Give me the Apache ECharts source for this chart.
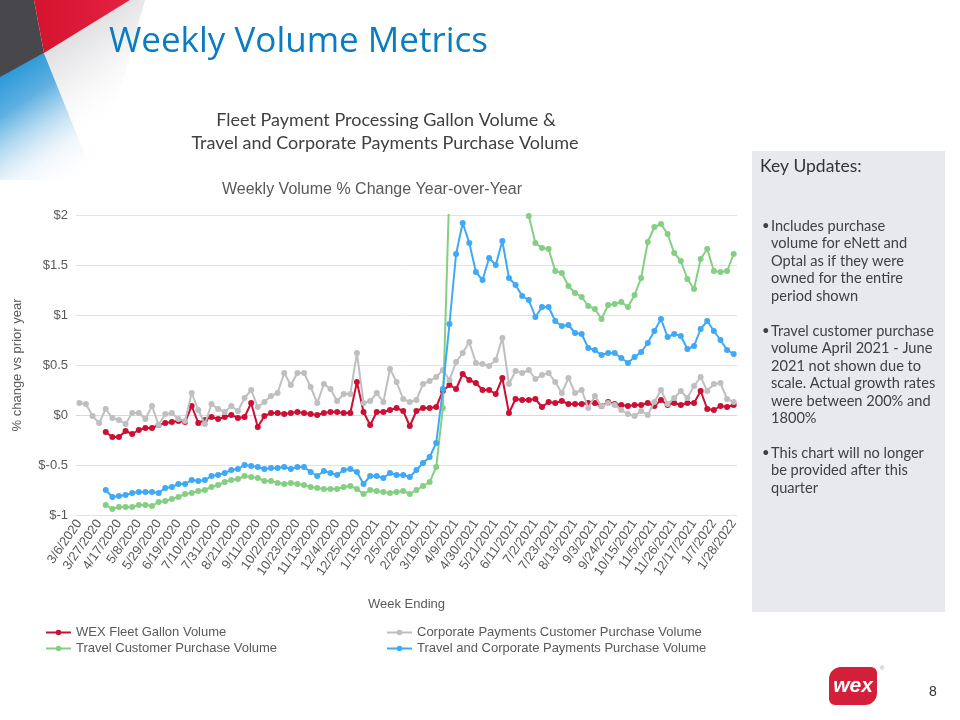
<!DOCTYPE html>
<html>
<head>
<meta charset="utf-8">
<script src="https://cdn.jsdelivr.net/npm/echarts@6/dist/echarts.min.js"></script>
<style>
html,body{margin:0;padding:0;background:#fff;}
#chart{width:960px;height:720px;}
</style>
</head>
<body>
<div id="chart"></div>
<script>
const weeks = ['3/6/2020','3/13/2020','3/20/2020','3/27/2020','4/3/2020','4/10/2020','4/17/2020','4/24/2020','5/1/2020','5/8/2020','5/15/2020','5/22/2020','5/29/2020','6/5/2020','6/12/2020','6/19/2020','6/26/2020','7/3/2020','7/10/2020','7/17/2020','7/24/2020','7/31/2020','8/7/2020','8/14/2020','8/21/2020','8/28/2020','9/4/2020','9/11/2020','9/18/2020','9/25/2020','10/2/2020','10/9/2020','10/16/2020','10/23/2020','10/30/2020','11/6/2020','11/13/2020','11/20/2020','11/27/2020','12/4/2020','12/11/2020','12/18/2020','12/25/2020','1/1/2021','1/8/2021','1/15/2021','1/22/2021','1/29/2021','2/5/2021','2/12/2021','2/19/2021','2/26/2021','3/5/2021','3/12/2021','3/19/2021','3/26/2021','4/2/2021','4/9/2021','4/16/2021','4/23/2021','4/30/2021','5/7/2021','5/14/2021','5/21/2021','5/28/2021','6/4/2021','6/11/2021','6/18/2021','6/25/2021','7/2/2021','7/9/2021','7/16/2021','7/23/2021','7/30/2021','8/6/2021','8/13/2021','8/20/2021','8/27/2021','9/3/2021','9/10/2021','9/17/2021','9/24/2021','10/1/2021','10/8/2021','10/15/2021','10/22/2021','10/29/2021','11/5/2021','11/12/2021','11/19/2021','11/26/2021','12/3/2021','12/10/2021','12/17/2021','12/24/2021','12/31/2021','1/7/2022','1/14/2022','1/21/2022','1/28/2022'];

const wexFleetGallon = [null,null,null,null,-0.17,-0.22,-0.22,-0.16,-0.19,-0.15,
 -0.13,-0.13,-0.10,-0.08,-0.07,-0.06,-0.07,0.09,-0.08,-0.05,
 -0.02,-0.04,-0.02,0.00,-0.03,-0.02,0.12,-0.12,-0.01,0.02,
 0.02,0.01,0.02,0.03,0.02,0.01,0.00,0.02,0.03,0.03,
 0.02,0.02,0.33,0.03,-0.10,0.03,0.03,0.05,0.07,0.04,
 -0.11,0.04,0.07,0.07,0.08,0.24,0.30,0.26,0.41,0.35,
 0.32,0.25,0.25,0.21,0.37,0.02,0.16,0.15,0.15,0.16,
 0.08,0.13,0.12,0.14,0.11,0.11,0.11,0.12,0.12,0.09,
 0.13,0.11,0.10,0.09,0.10,0.10,0.12,0.09,0.15,0.10,
 0.12,0.10,0.12,0.12,0.24,0.06,0.05,0.09,0.08,0.10];

const corporatePayments = [0.12,0.11,-0.01,-0.08,0.06,-0.03,-0.05,-0.09,0.02,0.02,
 -0.04,0.09,-0.10,0.01,0.02,-0.04,-0.06,0.22,0.05,-0.09,
 0.11,0.06,0.03,0.09,0.04,0.17,0.25,0.08,0.13,0.19,
 0.22,0.42,0.30,0.42,0.42,0.28,0.12,0.31,0.26,0.14,
 0.21,0.21,0.62,0.12,0.14,0.22,0.13,0.46,0.33,0.16,
 0.13,0.15,0.31,0.34,0.38,0.45,0.35,0.53,0.62,0.73,
 0.52,0.51,0.49,0.55,0.77,0.31,0.44,0.42,0.45,0.36,
 0.40,0.42,0.33,0.22,0.37,0.22,0.25,0.07,0.19,0.09,
 0.12,0.10,0.05,0.01,-0.01,0.04,0.00,0.13,0.25,0.11,
 0.17,0.24,0.17,0.29,0.38,0.24,0.31,0.32,0.16,0.13];

const travelCustomer = [null,null,null,null,-0.90,-0.94,-0.92,-0.92,-0.92,-0.90,
 -0.90,-0.91,-0.87,-0.86,-0.84,-0.82,-0.79,-0.78,-0.76,-0.75,
 -0.72,-0.70,-0.67,-0.65,-0.64,-0.61,-0.62,-0.63,-0.66,-0.66,
 -0.68,-0.69,-0.68,-0.69,-0.70,-0.72,-0.73,-0.74,-0.74,-0.74,
 -0.72,-0.71,-0.74,-0.79,-0.75,-0.76,-0.77,-0.78,-0.77,-0.76,
 -0.79,-0.75,-0.71,-0.67,-0.52,0.07,2.3,null,null,null,
 null,null,null,null,null,null,null,null,1.99,1.72,
 1.67,1.66,1.44,1.42,1.29,1.22,1.18,1.09,1.06,0.96,
 1.10,1.11,1.13,1.08,1.20,1.37,1.73,1.88,1.91,1.81,
 1.62,1.54,1.36,1.26,1.56,1.66,1.44,1.43,1.44,1.61];

const travelAndCorporate = [null,null,null,null,-0.75,-0.82,-0.81,-0.80,-0.78,-0.77,
 -0.77,-0.77,-0.78,-0.73,-0.72,-0.69,-0.69,-0.65,-0.66,-0.65,
 -0.61,-0.60,-0.58,-0.55,-0.54,-0.50,-0.51,-0.52,-0.54,-0.53,
 -0.53,-0.52,-0.54,-0.52,-0.52,-0.57,-0.61,-0.56,-0.58,-0.60,
 -0.55,-0.54,-0.57,-0.69,-0.61,-0.61,-0.63,-0.58,-0.60,-0.60,
 -0.62,-0.55,-0.48,-0.42,-0.28,0.26,0.91,1.61,1.92,1.72,
 1.43,1.35,1.57,1.50,1.74,1.37,1.30,1.19,1.15,0.98,
 1.08,1.08,0.94,0.89,0.90,0.82,0.81,0.67,0.65,0.60,
 0.62,0.62,0.57,0.52,0.58,0.63,0.72,0.84,0.96,0.78,
 0.81,0.79,0.66,0.69,0.86,0.94,0.84,0.75,0.65,0.61];

const seriesNames = ['WEX Fleet Gallon Volume','Corporate Payments Customer Purchase Volume','Travel Customer Purchase Volume','Travel and Corporate Payments Purchase Volume'];
const seriesColors = ['#cc0f35','#bfbfbf','#85cf85','#3fa9f5'];
const seriesData = [wexFleetGallon, corporatePayments, travelCustomer, travelAndCorporate];

const keyUpdates = [
  ['Includes purchase','volume for eNett and','Optal as if they were','owned for the entire','period shown'],
  ['Travel customer purchase','volume April 2021 - June','2021 not shown due to','scale. Actual growth rates','were between 200% and','1800%'],
  ['This chart will no longer','be provided after this','quarter']
];

const chart = echarts.init(document.getElementById('chart'), null, {renderer:'canvas'});
const LG = echarts.graphic.LinearGradient;

const graphics = [
  // decorative corner
  {type:'polygon', shape:{points:[[0,76],[44,53],[95,180],[0,180]]}, style:{fill:new LG(0,0,0.9,1,[{offset:0,color:'#0a8bd3'},{offset:0.35,color:'rgba(40,150,215,0.75)'},{offset:0.75,color:'rgba(160,205,235,0.15)'},{offset:1,color:'rgba(255,255,255,0)'}])}, silent:true},
  {type:'polygon', shape:{points:[[44,53],[130,0],[145,0],[95,180]]}, style:{fill:new LG(0,0,1,0.8,[{offset:0,color:'#c2c2c6'},{offset:0.45,color:'rgba(225,225,228,0.5)'},{offset:0.8,color:'rgba(255,255,255,0)'}])}, silent:true},
  {type:'polygon', shape:{points:[[0,0],[34,0],[44,53],[0,77]]}, style:{fill:'#48484c'}, silent:true},
  {type:'polygon', shape:{points:[[34,0],[130,0],[44,53]]}, style:{fill:new LG(0,0,1,0,[{offset:0,color:'#d4132f'},{offset:1,color:'#e5223f'}])}, silent:true},
  // slide title
  {type:'text', x:109, y:42, style:{text:'Weekly Volume Metrics', font:'35px "Open Sans"', fill:'#0a7cc1', verticalAlign:'middle'}},
  // chart headings
  {type:'text', x:386, y:120, style:{text:'Fleet Payment Processing Gallon Volume &', font:'18px Lato', fill:'#404040', align:'center', verticalAlign:'middle'}},
  {type:'text', x:385, y:143, style:{text:'Travel and Corporate Payments Purchase Volume', font:'18px Lato', fill:'#404040', align:'center', verticalAlign:'middle'}},
  {type:'text', x:372, y:190, style:{text:'Weekly Volume % Change Year-over-Year', font:'16px "Liberation Sans"', fill:'#595959', align:'center', verticalAlign:'middle'}},
  // key updates panel
  {type:'rect', shape:{x:752, y:151, width:193, height:461}, style:{fill:'#e7e9ec'}, silent:true},
  {type:'text', x:760, y:166, style:{text:'Key Updates:', font:'17.5px Lato', fill:'#333333', verticalAlign:'middle'}},
  // logo & page number
  {type:'rect', shape:{x:829, y:667, width:48, height:38, r:[12,6,12,6]}, style:{fill:'#d41f3a'}, silent:true},
  {type:'text', x:853, y:686, style:{text:'wex', font:'italic bold 21px "Liberation Sans"', fill:'#ffffff', align:'center', verticalAlign:'middle'}},
  {type:'text', x:880, y:668, style:{text:'®', font:'6px "Liberation Sans"', fill:'#999999', verticalAlign:'middle'}},
  {type:'text', x:933, y:692, style:{text:'8', font:'14px "Liberation Sans"', fill:'#333333', align:'center', verticalAlign:'middle'}}
];

const bulletTops = [226, 331, 453];
keyUpdates.forEach((lines, bi) => {
  graphics.push({type:'text', x:762, y:bulletTops[bi], style:{text:'•', font:'13px Lato', fill:'#404040', verticalAlign:'middle'}});
  lines.forEach((ln, li) => {
    graphics.push({type:'text', x:771, y:bulletTops[bi] + li*17.5, style:{text:ln, font:'14.6px Lato', fill:'#404040', verticalAlign:'middle'}});
  });
});

const legendPos = [[40,621],[381,621],[40,637],[381,637]];

const option = {
  backgroundColor:'#ffffff',
  animation:false,
  textStyle:{fontFamily:'"Liberation Sans", Arial, sans-serif'},
  graphic: graphics,
  legend: seriesNames.map((n,i)=>({
    data:[n], left:legendPos[i][0], top:legendPos[i][1], itemWidth:25, itemHeight:7, itemGap:4,
    textStyle:{color:'#595959', fontSize:13, fontFamily:'"Liberation Sans"'}, selectedMode:false
  })),
  grid:{left:76, right:223, top:215, bottom:205, containLabel:false},
  xAxis:{
    type:'category', data:weeks, boundaryGap:true,
    name:'Week Ending', nameLocation:'middle', nameGap:83,
    nameTextStyle:{color:'#595959', fontSize:13},
    axisLine:{show:true, lineStyle:{color:'#d9d9d9'}},
    axisTick:{show:false},
    axisLabel:{interval:2, rotate:55, color:'#595959', fontSize:13, margin:6}
  },
  yAxis:{
    type:'value', min:-1, max:2, interval:0.5,
    name:'% change vs prior year', nameLocation:'middle', nameGap:52,
    nameTextStyle:{color:'#595959', fontSize:13},
    axisLine:{show:false}, axisTick:{show:false},
    axisLabel:{color:'#595959', fontSize:13, margin:8, formatter:v=>'$'+v},
    splitLine:{lineStyle:{color:'#e3e3e3', width:1}}
  },
  series: seriesNames.map((n,i)=>({
    name:n, type:'line', data:seriesData[i], connectNulls:false, clip:true,
    symbol:'circle', symbolSize:6, showSymbol:true, showAllSymbol:true,
    lineStyle:{color:seriesColors[i], width:2},
    itemStyle:{color:seriesColors[i]},
    z: 2+i
  }))
};
chart.setOption(option);
</script>
</body>
</html>
